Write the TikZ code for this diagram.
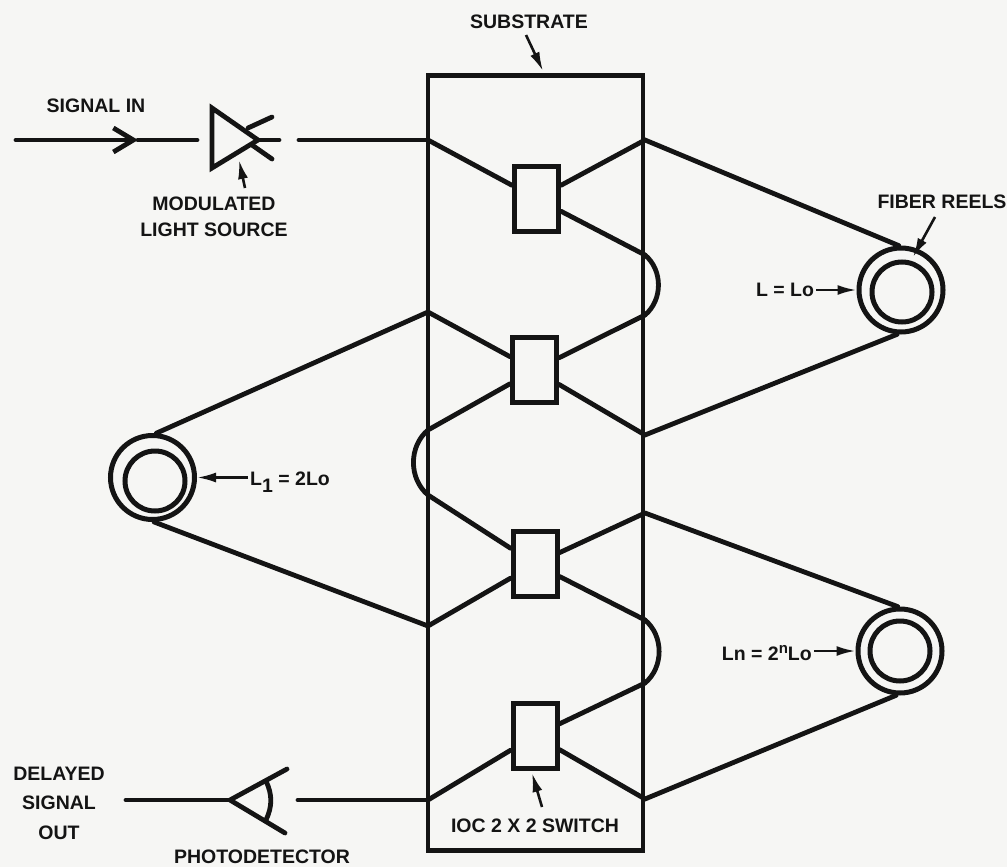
\documentclass[tikz,border=0pt]{standalone}
\usepackage{fontspec}
\setmainfont{Liberation Sans}
\usepackage{tikz}
\usetikzlibrary{arrows.meta,positioning,calc}
\definecolor{paper}{HTML}{F6F6F4}
\definecolor{ink}{HTML}{141414}

\begin{document}
\begin{tikzpicture}[
  x=1pt, y=-1pt,
  wire/.style={draw=ink, line width=4.8pt, line cap=round},
  switchbox/.style={draw=ink, line width=5pt, minimum width=44pt, minimum height=65pt, inner sep=0pt},
  ring/.style={draw=ink, circle, line width=5pt, inner sep=0pt},
  ptr/.style={draw=ink, line width=2.6pt, -{Latex[length=19pt,width=10pt]}},
  lbl/.style={text=ink, font=\fontsize{19.5}{19.5}\selectfont\bfseries, inner sep=2pt, align=center}
]
  \useasboundingbox (0,0) rectangle (1007,867);
  \fill[paper] (0,0) rectangle (1007,867);

  % substrate and switches
  \node[draw=ink, line width=4.4pt, minimum width=215pt, minimum height=775pt] (substrate) at (535.5,463) {};
  \node[switchbox] (swA) at (536.5,198.5) {};
  \node[switchbox] (swB) at (534.5,370) {};
  \node[switchbox] (swC) at (535,564) {};
  \node[switchbox] (swD) at (535,735.5) {};

  % junctions on the substrate edge
  \coordinate (inA) at (428,140);
  \coordinate (outA) at (645,140);
  \coordinate (outB) at (645,255);
  \coordinate (outC) at (645,315);
  \coordinate (inB) at (428,312);
  \coordinate (inC) at (428,430);
  \coordinate (outD) at (645,435);
  \coordinate (inD) at (428,495);
  \coordinate (outE) at (645,513);
  \coordinate (inE) at (428,626);
  \coordinate (outF) at (645,620);
  \coordinate (outG) at (645,683);
  \coordinate (inF) at (428,800);
  \coordinate (outH) at (645,799);

  \draw[wire] (inA) -- (swA);
  \draw[wire] (outA) -- (swA);
  \draw[wire] (outB) -- (swA);
  \draw[wire] (outC) -- (swB);
  \draw[wire] (inB) -- (swB);
  \draw[wire] (inC) -- (swB);
  \draw[wire] (outD) -- (swB);
  \draw[wire] (inD) -- (swC);
  \draw[wire] (outE) -- (swC);
  \draw[wire] (inE) -- (swC);
  \draw[wire] (outF) -- (swC);
  \draw[wire] (outG) -- (swD);
  \draw[wire] (inF) -- (swD);
  \draw[wire] (outH) -- (swD);
  \draw[wire] (outB) to[bend left=50] (outC);
  \draw[wire] (inC) to[bend right=50] (inD);
  \draw[wire] (outF) to[bend left=50] (outG);

  % fiber reels
  \node[ring, minimum size=84pt] (reelA) at (901,290) {};
  \node[ring, minimum size=60pt] (coreA) at (902,292) {};
  \node[ring, minimum size=84pt] (reelB) at (152.5,477.5) {};
  \node[ring, minimum size=60pt] (coreB) at (155,481) {};
  \node[ring, minimum size=84pt] (reelC) at (900,651) {};
  \node[ring, minimum size=60pt] (coreC) at (900,651) {};
  \draw[wire] (outA) -- (reelA.93);
  \draw[wire] (outD) -- (reelA.-95);
  \draw[wire] (inB) -- (reelB.85);
  \draw[wire] (inE) -- (reelB.-88);
  \draw[wire] (outE) -- (reelC.93);
  \draw[wire] (outH) -- (reelC.-95);

  % light source
  \coordinate (sigStart) at (16,140);
  \coordinate (sigHead) at (138,140);
  \coordinate (sigEnd) at (197,140);
  \coordinate (srcTop) at (212,108);
  \coordinate (srcTip) at (258,140);
  \coordinate (srcBot) at (212,168);
  \coordinate (rayA) at (248,128);
  \coordinate (rayAend) at (272,117);
  \coordinate (rayB) at (279,140);
  \coordinate (rayC) at (252,145);
  \coordinate (rayCend) at (272,159);
  \coordinate (srcOut) at (299,140);
  \draw[wire, -{Straight Barb[length=20pt,width=24pt]}] (sigStart) -- (sigHead);
  \draw[wire] (sigHead) -- (sigEnd);
  \draw[wire, line join=miter] (srcTop) -- (srcTip) -- (srcBot) -- cycle;
  \draw[wire] (rayA) -- (rayAend);
  \draw[wire] (srcTip) -- (rayB);
  \draw[wire] (rayC) -- (rayCend);
  \draw[wire] (srcOut) -- (inA);

  % photodetector
  \coordinate (detEnd) at (126,800);
  \coordinate (detTip) at (230,800);
  \coordinate (detTop) at (287,769);
  \coordinate (detBot) at (285,833);
  \coordinate (detArcA) at (266,781);
  \coordinate (detArcB) at (266,820);
  \coordinate (detOut) at (298,800);
  \draw[wire] (detEnd) -- (detTip);
  \draw[wire] (detTop) -- (detTip) -- (detBot);
  \draw[wire] (detArcA) to[bend left=25] (detArcB);
  \draw[wire] (detOut) -- (inF);

  % labels
  \node[lbl] (sigLabel) at (96,106) {SIGNAL IN};
  \node[lbl, anchor=north] (srcLabel) at (214,195) {MODULATED\\[6pt]LIGHT SOURCE};
  \coordinate (srcPoint) at (239,160);
  \coordinate (srcTail) at (245,188);
  \draw[ptr] (srcTail) -- (srcPoint);
  \node[lbl] (subLabel) at (529,22) {SUBSTRATE};
  \coordinate (subPoint) at (543,71);
  \coordinate (subTail) at (526,35);
  \draw[ptr] (subTail) -- (subPoint);
  \node[lbl] (fiberLabel) at (942,202) {FIBER REELS};
  \coordinate (fiberPoint) at (913,257);
  \coordinate (fiberTail) at (935,217);
  \draw[ptr] (fiberTail) -- (fiberPoint);
  \node[lbl] (lenA) at (785,290) {L = Lo};
  \draw[ptr] (lenA.east |- reelA) -- (reelA);
  \node[lbl, anchor=west] (lenB) at (248,482) {L\raisebox{-7pt}{1} = 2Lo};
  \draw[ptr] (lenB.west |- reelB) -- (reelB);
  \node[lbl, anchor=east] (lenC) at (814,653) {Ln = 2\raisebox{7pt}{\fontsize{15}{15}\selectfont n}Lo};
  \draw[ptr] (lenC.east |- reelC) -- (reelC);
  \node[lbl] (outLabel) at (59,803) {DELAYED\\[10pt]SIGNAL\\[10pt]OUT};
  \node[lbl] (detLabel) at (262,857) {PHOTODETECTOR};
  \node[lbl] (iocLabel) at (535,826) {IOC 2 X 2 SWITCH};
  \coordinate (iocPoint) at (532,773);
  \coordinate (iocTail) at (542,807);
  \draw[ptr] (iocTail) -- (iocPoint);
\end{tikzpicture}
\end{document}
